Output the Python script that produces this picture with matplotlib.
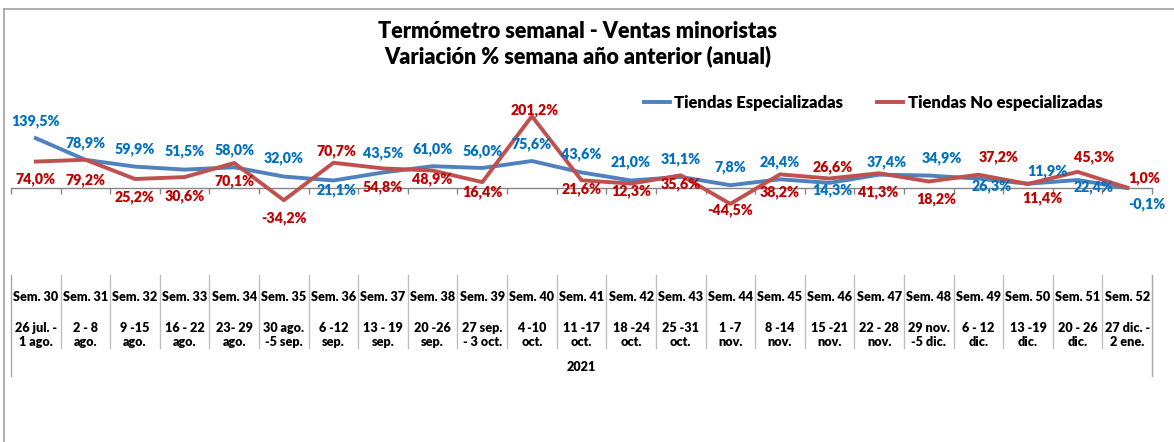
import matplotlib
matplotlib.use("Agg")
import matplotlib.pyplot as plt
from matplotlib.lines import Line2D
from matplotlib.transforms import blended_transform_factory

plt.rcParams['font.family'] = ['Lato', 'DejaVu Sans']
plt.rcParams['font.weight'] = 'bold'

# ---------------- data ----------------
weeks = ["Sem. 30", "Sem. 31", "Sem. 32", "Sem. 33", "Sem. 34", "Sem. 35", "Sem. 36",
         "Sem. 37", "Sem. 38", "Sem. 39", "Sem. 40", "Sem. 41", "Sem. 42", "Sem. 43",
         "Sem. 44", "Sem. 45", "Sem. 46", "Sem. 47", "Sem. 48", "Sem. 49", "Sem. 50",
         "Sem. 51", "Sem. 52"]
dates = ["26 jul. -\n1 ago.", "2 - 8\nago.", "9 -15\nago.", "16 - 22\nago.", "23- 29\nago.",
         "30 ago.\n-5 sep.", "6 -12\nsep.", "13 - 19\nsep.", "20 -26\nsep.", "27 sep.\n- 3 oct.",
         "4 -10\noct.", "11 -17\noct.", "18 -24\noct.", "25 -31\noct.", "1 -7\nnov.",
         "8 -14\nnov.", "15 -21\nnov.", "22 - 28\nnov.", "29 nov.\n-5 dic.", "6 - 12\ndic.",
         "13 -19\ndic.", "20 - 26\ndic.", "27 dic. -\n2 ene."]
year_label = "2021"
especializadas = [139.5, 78.9, 59.9, 51.5, 58.0, 32.0, 21.1, 43.5, 61.0, 56.0, 75.6, 43.6,
                  21.0, 31.1, 7.8, 24.4, 14.3, 37.4, 34.9, 26.3, 11.9, 22.4, -0.1]
no_especializadas = [74.0, 79.2, 25.2, 30.6, 70.1, -34.2, 70.7, 54.8, 48.9, 16.4, 201.2, 21.6,
                     12.3, 35.6, -44.5, 38.2, 26.6, 41.3, 18.2, 37.2, 11.4, 45.3, 1.0]

# label offsets (pixels) relative to each point
blue_off = [(0, 17), (0, 17), (0, 17), (0, 18), (0, 17), (0, 18), (3, -10), (0, 19), (0, 17),
            (0, 17), (0, 17), (0, 18), (0, 18), (0, 18), (0, 18), (0, 17), (3, -7), (8, 13),
            (13, 17), (13, -8), (19, 13), (16, -7), (20, -16)]
red_off = [(0, -18), (0, -20), (0, -18), (0, -19), (0, -18), (0, -18), (3, 12), (0, -19),
           (0, -9), (0, -10), (3, 6), (0, -9), (0, -8), (0, -9), (0, -6), (0, -18), (3, 11),
           (-1, -19), (7, -18), (20, 18), (14, -14), (17, 15), (17, 10)]

W, H = 1174, 442
fig = plt.figure(figsize=(W / 100, H / 100), dpi=100)

ax_left, ax_right = 11, 1152
ymin, ymax = -60, 220
px_per_unit = 0.357
zero_px = 188
top_px = zero_px - ymax * px_per_unit
bot_px = zero_px - ymin * px_per_unit
ax = fig.add_axes([ax_left / W, 1 - bot_px / H, (ax_right - ax_left) / W, (bot_px - top_px) / H])
ax.set_xlim(-0.5, len(weeks) - 0.5)
ax.set_ylim(ymin, ymax)
ax.patch.set_alpha(0)

x = list(range(len(weeks)))
blue_line = "#4F81BD"
red_line = "#C0504D"
blue_txt = "#0070C0"
red_txt = "#C00000"

ax.plot(x, especializadas, color=blue_line, lw=2.8, solid_joinstyle='round', label="Tiendas Especializadas", zorder=3)
ax.plot(x, no_especializadas, color=red_line, lw=2.8, solid_joinstyle='round', label="Tiendas No especializadas", zorder=4)

def fmt(v):
    return f"{v:.1f}".replace(".", ",") + "%"

LBL = 10.3
for i, v in enumerate(especializadas):
    ax.annotate(fmt(v), (i, v), xytext=blue_off[i], textcoords='offset pixels',
                ha='center', va='center', color=blue_txt, fontsize=LBL, fontweight='heavy',
                annotation_clip=False, zorder=5)
for i, v in enumerate(no_especializadas):
    ax.annotate(fmt(v), (i, v), xytext=red_off[i], textcoords='offset pixels',
                ha='center', va='center', color=red_txt, fontsize=LBL, fontweight='heavy',
                annotation_clip=False, zorder=5)

for s in ['top', 'right', 'left']:
    ax.spines[s].set_visible(False)
ax.spines['bottom'].set_position(('data', 0))
ax.spines['bottom'].set_color('#868686')
ax.spines['bottom'].set_linewidth(1.0)
ax.set_yticks([])
ax.set_xticks([i - 0.5 for i in range(len(weeks) + 1)])
ax.set_xticklabels([])
ax.tick_params(axis='x', direction='out', length=4, color='#868686', width=1)

# category table below the chart
tr = blended_transform_factory(ax.transData, fig.transFigure)
def fy(px):
    return 1 - px / H

CAT = 9.1
for i, (wk, dt) in enumerate(zip(weeks, dates)):
    ax.text(i, fy(297), wk, transform=tr, ha='center', va='center', fontsize=CAT,
            fontweight='heavy', color='black')
    ax.text(i, fy(335), dt, transform=tr, ha='center', va='center', fontsize=CAT,
            fontweight='heavy', color='black', linespacing=1.12, multialignment='center')

sep_color = '#BFBFBF'
n = len(weeks)
for k in range(n + 1):
    bottom = 376 if k in (0, n) else 348
    ax.add_line(Line2D([k - 0.5, k - 0.5], [fy(275), fy(bottom)], transform=tr,
                       color=sep_color if k not in (0, n) else '#A6A6A6', lw=1, clip_on=False))
ax.text((n - 1) / 2, fy(367), year_label, transform=tr, ha='center', va='center',
        fontsize=CAT, fontweight='heavy', color='black')

# titles
fig.text(578 / W, fy(32), "Termómetro semanal - Ventas minoristas", ha='center', va='center',
         fontsize=15.5, fontweight='heavy', color='black')
fig.text(578 / W, fy(56), "Variación % semana año anterior (anual)", ha='center', va='center',
         fontsize=15.5, fontweight='heavy', color='black')

# legend
leg = fig.legend(loc='center', bbox_to_anchor=(873 / W, fy(103)), ncol=2, frameon=False,
                 handlelength=1.6, handletextpad=0.25, columnspacing=2.0,
                 prop={'weight': 'heavy', 'size': 12})

# outer frame (partially visible)
fig.add_artist(Line2D([4 / W, 1], [fy(9), fy(9)], color='#A0A0A0', lw=1.2, transform=fig.transFigure))
fig.add_artist(Line2D([4 / W, 4 / W], [fy(9), 0], color='#A0A0A0', lw=1.2, transform=fig.transFigure))

fig.savefig("out.png", dpi=100)
